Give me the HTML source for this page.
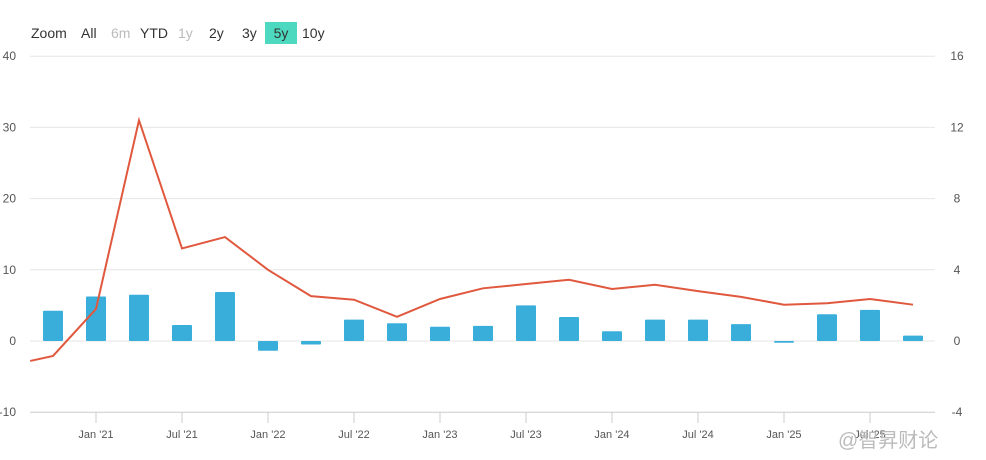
<!DOCTYPE html>
<html><head><meta charset="utf-8"><style>
body{margin:0;background:#fff;font-family:"Liberation Sans","Noto Sans CJK SC",sans-serif;}
#wrap{position:relative;width:986px;height:460px;overflow:hidden;}
.btn{position:absolute;top:24px;font-size:14px;color:#333;line-height:18px;}
.dis{color:#bbb;}
</style></head><body>
<div id="wrap">
<span class="btn" style="left:31px">Zoom</span>
<span class="btn" style="left:81px">All</span>
<span class="btn dis" style="left:111px">6m</span>
<span class="btn" style="left:140px">YTD</span>
<span class="btn dis" style="left:178px">1y</span>
<span class="btn" style="left:209px">2y</span>
<span class="btn" style="left:242px">3y</span>
<span class="btn" style="left:265px;top:22px;width:32px;height:22px;line-height:22px;text-align:center;background:#4dd9bf;">5y</span>
<span class="btn" style="left:302px">10y</span>
<svg id="svg" width="986" height="460" style="position:absolute;left:0;top:0"></svg>
<div style="position:absolute;left:838px;top:424px;font-size:20px;color:#bbb;">@智昇财论</div>
</div>
<script>
const leftTicks=[40,30,20,10,0,-10];
const rightTicks=[16,12,8,4,0,-4];
const xLabels=["Jan '21","Jul '21","Jan '22","Jul '22","Jan '23","Jul '23","Jan '24","Jul '24","Jan '25","Jul '25"];
const xLabelIdx=[1,3,5,7,9,11,13,15,17,19];
const barValues=[1.7,2.5,2.6,0.9,2.75,-0.55,-0.2,1.2,1.0,0.8,0.85,2.0,1.35,0.55,1.2,1.2,0.95,-0.1,1.5,1.75,0.3];
const lineIdx=[-0.53,0,1,2,3,4,5,6,7,8,9,10,11,12,13,14,15,16,17,18,19,20];
const lineValues=[-2.8,-2.1,4.5,31,13,14.6,10,6.3,5.8,3.4,5.9,7.4,8.0,8.6,7.3,7.9,7.0,6.2,5.1,5.3,5.9,5.1];
const NS="http://www.w3.org/2000/svg";
const svg=document.getElementById('svg');
const yL=v=>341-v*7.12, yR=v=>341-v*17.8, xS=i=>53+i*43;
function mk(t,a){const e=document.createElementNS(NS,t);for(const k in a)e.setAttribute(k,a[k]);svg.appendChild(e);return e;}
leftTicks.forEach((v,i)=>{
 const g=mk('line',{x1:30,x2:935,y1:yL(v),y2:yL(v),stroke:v===-10?'#ccc':'#e6e6e6'});
 
 
 const t=mk('text',{x:16,y:yL(v)+4,'text-anchor':'end','font-size':12,fill:'#555'});t.textContent=v;
 
 
 const r=mk('text',{x:957,y:yR(rightTicks[i])+4,'text-anchor':'middle','font-size':12,fill:'#555'});r.textContent=rightTicks[i];
 
 
});
xLabels.forEach((l,i)=>{
 const x=xS(xLabelIdx[i]);
 const tk=mk('line',{x1:x,x2:x,y1:412,y2:423,stroke:'#ccc'});
 
 
 const t=mk('text',{x:x,y:438,'text-anchor':'middle','font-size':11,fill:'#555'});t.textContent=l;
 
 
});
barValues.forEach((v,i)=>{
 const y0=yR(0),y1=yR(v);
 const b=mk('rect',{x:xS(i)-10,y:Math.min(y0,y1),width:20,height:Math.max(1,Math.abs(y1-y0)),fill:'#3aaedb',rx:1});
 
 
});
const p=lineValues.map((v,i)=>Math.max(30,xS(lineIdx[i]))+','+yL(v)).join(' ');
const ln=mk('polyline',{points:p,fill:'none',stroke:'#e0583e','stroke-width':2});


</script>
</body></html>
